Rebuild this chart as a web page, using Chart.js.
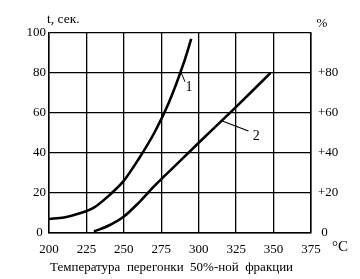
<!DOCTYPE html>
<html>
<head>
<meta charset="utf-8">
<script src="https://cdn.jsdelivr.net/npm/chart.js@4/dist/chart.umd.min.js"></script>
<style>
  html, body { margin: 0; padding: 0; background: #fff; }
  #wrap { width: 360px; height: 279px; position: relative; }
</style>
</head>
<body>
<div id="wrap"><canvas id="c" width="360" height="279"></canvas></div>
<script>
// ---- data ----
const xTicks = [200, 225, 250, 275, 300, 325, 350, 375];
const yLeftTicks = [0, 20, 40, 60, 80, 100];
const yRightTicks = [0, 20, 40, 60, 80];

// curve 1: time, s (left axis) vs distillation temperature of 50 % fraction
const temps1 = [200, 210, 220, 230, 240, 250, 260, 270, 280, 290, 295];
const time1  = [6.8, 7.5, 9.5, 12.5, 18.5, 26, 37, 49.5, 65, 85, 97];

// curve 2: percent (right axis)
const temps2 = [230, 240, 250, 260, 270, 285, 300, 325, 348];
const pct2   = [0.5, 3.5, 8, 15, 23, 34, 45, 63, 80];

// leader lines and curve labels (data coordinates)
const leader1 = [[287.5, 81.5], [290.8, 75.6]];
const leader2 = [[315.8, 55.9], [333.2, 50.9]];
const curveLabels = [
  { text: '1', x: 293.5, y: 73 },
  { text: '2', x: 338.5, y: 48.4 }
];

const texts = {
  yLeftTitle: 't, сек.',
  yRightTitle: '%',
  xUnit: '°C',
  xTitle: 'Температура  перегонки  50%-ной  фракции'
};

const SERIF = '"Liberation Serif", "DejaVu Serif", serif';

const toPts = (xs, ys) => xs.map((x, i) => ({ x: x, y: ys[i] }));
const pairPts = (p) => p.map(a => ({ x: a[0], y: a[1] }));

const textPlugin = {
  id: 'extraText',
  afterDraw(chart) {
    const ctx = chart.ctx;
    const xs = chart.scales.x, yl = chart.scales.y, ca = chart.chartArea;
    ctx.save();
    ctx.fillStyle = '#000';
    ctx.textBaseline = 'middle';
    ctx.font = '13.5px ' + SERIF;
    ctx.textAlign = 'left';
    ctx.fillText(texts.yLeftTitle, ca.left - 2, ca.top - 14);
    ctx.textAlign = 'center';
    ctx.font = '13px ' + SERIF;
    ctx.fillText(texts.yRightTitle, ca.right + 11, ca.top - 9);
    ctx.font = '15px ' + SERIF;
    ctx.fillText(texts.xUnit, ca.right + 29, ca.bottom + 15);
    ctx.font = '13px ' + SERIF;
    ctx.textAlign = 'left';
    ctx.fillText(texts.xTitle, ca.left + 1, ca.bottom + 35);
    ctx.textAlign = 'center';
    ctx.font = '14px ' + SERIF;
    curveLabels.forEach(l => {
      ctx.fillText(l.text, xs.getPixelForValue(l.x), yl.getPixelForValue(l.y));
    });
    ctx.restore();
  }
};

new Chart(document.getElementById('c'), {
  type: 'line',
  data: {
    datasets: [
      { data: toPts(temps1, time1), yAxisID: 'y', borderColor: '#000', borderWidth: 2.6,
        pointRadius: 0, cubicInterpolationMode: 'monotone', fill: false },
      { data: toPts(temps2, pct2), yAxisID: 'y2', borderColor: '#000', borderWidth: 2.6,
        pointRadius: 0, cubicInterpolationMode: 'monotone', fill: false },
      { data: pairPts(leader1), yAxisID: 'y', borderColor: '#000', borderWidth: 1,
        pointRadius: 0, fill: false },
      { data: pairPts(leader2), yAxisID: 'y', borderColor: '#000', borderWidth: 1.2,
        pointRadius: 0, fill: false }
    ]
  },
  options: {
    responsive: false,
    animation: false,
    layout: { padding: { top: 33, left: 0, right: 0, bottom: 0 } },
    plugins: { legend: { display: false }, tooltip: { enabled: false } },
    scales: {
      x: {
        type: 'linear', min: xTicks[0], max: xTicks[xTicks.length - 1],
        afterBuildTicks(s) { s.ticks = xTicks.map(v => ({ value: v })); },
        afterFit(s) { s.height = 46.5; },
        grid: { color: '#000', lineWidth: 1.3, drawTicks: false },
        border: { color: '#000', width: 1.5 },
        ticks: { color: '#000', padding: 9, maxRotation: 0, font: { family: SERIF, size: 13 } }
      },
      y: {
        position: 'left', min: 0, max: 100,
        afterBuildTicks(s) { s.ticks = yLeftTicks.map(v => ({ value: v })); },
        afterFit(s) { s.width = 49; },
        grid: { color: '#000', lineWidth: 1.3, drawTicks: false },
        border: { color: '#000', width: 1.5 },
        ticks: { color: '#000', padding: 3, font: { family: SERIF, size: 13 },
          callback: v => (v === 0 ? '0 ' : String(v)) }
      },
      y2: {
        position: 'right', min: 0, max: 100,
        afterBuildTicks(s) { s.ticks = yRightTicks.map(v => ({ value: v })); },
        afterFit(s) { s.width = 49; },
        grid: { display: false, drawTicks: false },
        border: { display: true, color: '#000', width: 1.5 },
        ticks: { color: '#000', padding: 7, font: { family: SERIF, size: 13 },
          callback: v => (v === 0 ? ' 0' : '+' + v) }
      }
    }
  },
  plugins: [textPlugin]
});
</script>
</body>
</html>
